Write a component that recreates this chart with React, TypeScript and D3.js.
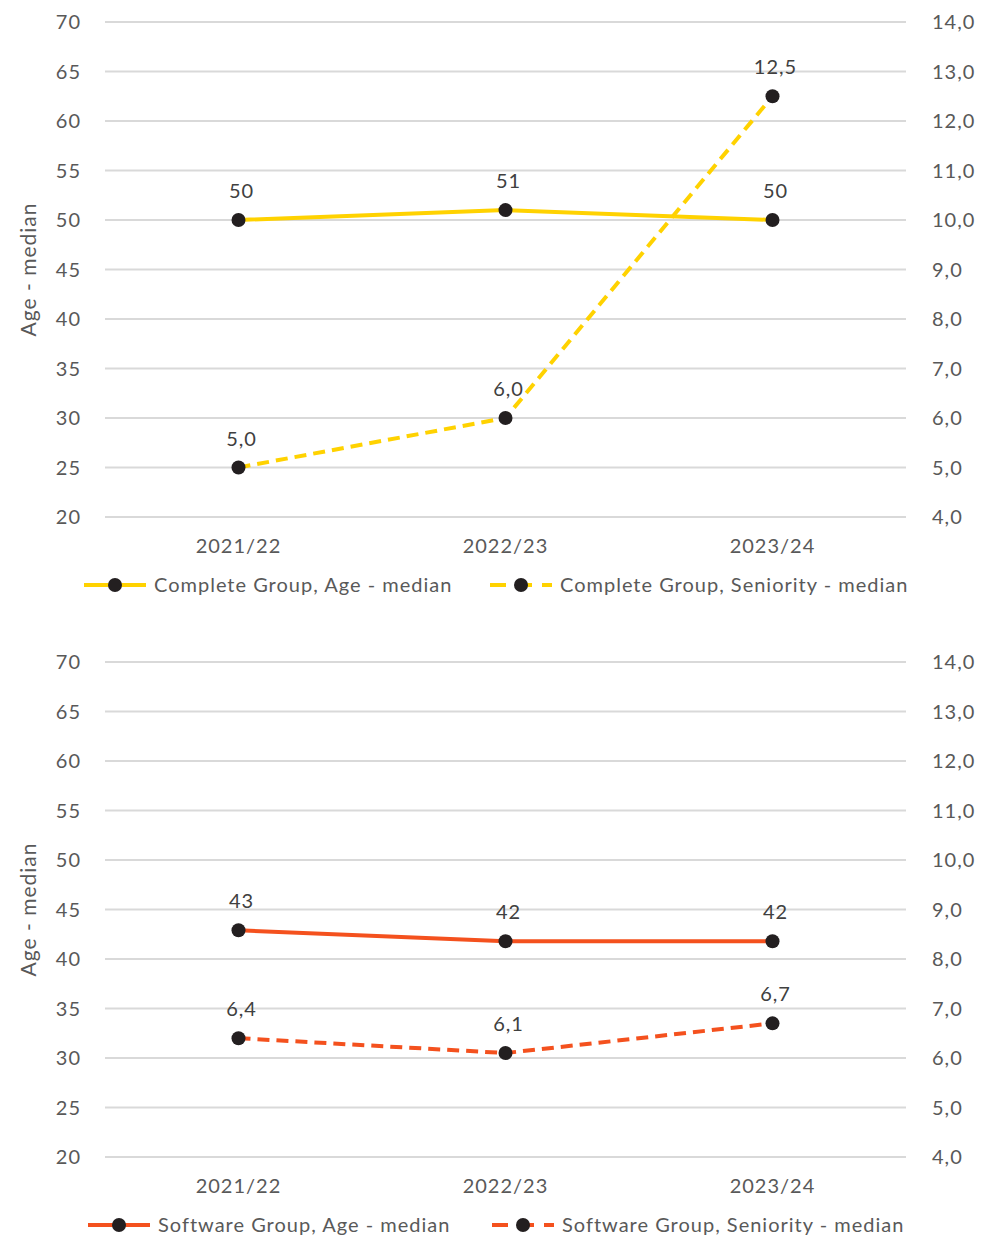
import React, { useEffect, useRef } from 'react';
import * as d3 from 'd3';

const years = ['2021/22', '2022/23', '2023/24'];
const leftTicks = [20, 25, 30, 35, 40, 45, 50, 55, 60, 65, 70];
const rightTicks = [4, 5, 6, 7, 8, 9, 10, 11, 12, 13, 14];

const completeAge = [50, 51, 50];
const completeSeniority = [5.0, 6.0, 12.5];
const softwareAge = [42.9, 41.8, 41.8];
const softwareSeniority = [6.4, 6.1, 6.7];

const YELLOW = '#FFD200';
const ORANGE = '#F4511E';
const FONT = 'Lato, "Open Sans", sans-serif';

const fmtComma = (v: number) => d3.format('.1f')(v).replace('.', ',');
const fmtInt = (v: number) => d3.format('.0f')(v);

interface PanelProps {
  top: number;
  color: string;
  age: number[];
  seniority: number[];
  ageLabel: string;
  seniorityLabel: string;
  legendX: [number, number];
}

const App: React.FC = () => {
  const svgRef = useRef<SVGSVGElement>(null);

  useEffect(() => {
    document.body.style.margin = '0';
    if (!svgRef.current) return;
    const svg = d3.select(svgRef.current);
    svg.selectAll('*').remove();

    const txt = (sel: any, size = 20, fill = '#595959') =>
      sel
        .style('font-family', FONT)
        .style('font-size', `${size}px`)
        .style('letter-spacing', '1px')
        .style('fill', fill);

    const drawPanel = (p: PanelProps) => {
      const g = svg.append('g').attr('transform', `translate(0, ${p.top})`);
      const plotH = 495;
      const x = d3.scalePoint<string>().domain(years).range([105, 906]).padding(0.5);
      const yL = d3.scaleLinear().domain([20, 70]).range([plotH, 0]);
      const yR = d3.scaleLinear().domain([4, 14]).range([plotH, 0]);

      // gridlines
      g.selectAll('line.grid')
        .data(leftTicks)
        .enter()
        .append('line')
        .attr('x1', 105)
        .attr('x2', 906)
        .attr('y1', d => yL(d))
        .attr('y2', d => yL(d))
        .style('stroke', '#d9d9d9')
        .style('stroke-width', 2);

      // left tick labels
      txt(
        g.selectAll('text.lt')
          .data(leftTicks)
          .enter()
          .append('text')
          .attr('x', 81)
          .attr('y', d => yL(d))
          .attr('dy', '0.35em')
          .attr('text-anchor', 'end')
      ).text(d => d);

      // right tick labels
      txt(
        g.selectAll('text.rt')
          .data(rightTicks)
          .enter()
          .append('text')
          .attr('x', 932)
          .attr('y', d => yR(d))
          .attr('dy', '0.35em')
          .attr('text-anchor', 'start')
      ).text(d => fmtComma(d));

      // axis title
      txt(
        g.append('text')
          .attr('transform', `translate(36, ${plotH / 2}) rotate(-90)`)
          .attr('text-anchor', 'middle'),
        21
      ).text('Age - median');

      // category labels
      txt(
        g.selectAll('text.cat')
          .data(years)
          .enter()
          .append('text')
          .attr('x', d => x(d)!)
          .attr('y', plotH + 36)
          .attr('text-anchor', 'middle')
      ).text(d => d);

      const series = [
        { vals: p.age, y: yL, dash: null as string | null, fmt: fmtInt },
        { vals: p.seniority, y: yR, dash: '12,7', fmt: fmtComma },
      ];

      series.forEach(s => {
        const line = d3
          .line<number>()
          .x((_, i) => x(years[i])!)
          .y(d => s.y(d));
        const path = g
          .append('path')
          .datum(s.vals)
          .attr('d', line)
          .style('fill', 'none')
          .style('stroke', p.color)
          .style('stroke-width', 4);
        if (s.dash) path.style('stroke-dasharray', s.dash);

        g.selectAll(null)
          .data(s.vals)
          .enter()
          .append('circle')
          .attr('cx', (_, i) => x(years[i])!)
          .attr('cy', d => s.y(d))
          .attr('r', 7)
          .style('fill', '#231f20');

        txt(
          g.selectAll(null)
            .data(s.vals)
            .enter()
            .append('text')
            .attr('x', (_, i) => x(years[i])! + 3)
            .attr('y', d => s.y(d) - 22)
            .attr('text-anchor', 'middle'),
          20,
          '#404040'
        ).text(d => s.fmt(d));
      });

      // legend
      const ly = plotH + 68;
      const items = [
        { label: p.ageLabel, dash: null as string | null, x0: p.legendX[0] },
        { label: p.seniorityLabel, dash: '16,10', x0: p.legendX[1] },
      ];
      items.forEach(it => {
        const l = g
          .append('line')
          .attr('x1', it.x0)
          .attr('x2', it.x0 + 62)
          .attr('y1', ly)
          .attr('y2', ly)
          .style('stroke', p.color)
          .style('stroke-width', 4);
        if (it.dash) l.style('stroke-dasharray', it.dash);
        g.append('circle')
          .attr('cx', it.x0 + 31)
          .attr('cy', ly)
          .attr('r', 7)
          .style('fill', '#231f20');
        txt(
          g.append('text')
            .attr('x', it.x0 + 70)
            .attr('y', ly)
            .attr('dy', '0.35em')
        ).text(it.label);
      });
    };

    drawPanel({
      top: 22,
      color: YELLOW,
      age: completeAge,
      seniority: completeSeniority,
      ageLabel: 'Complete Group, Age - median',
      seniorityLabel: 'Complete Group, Seniority - median',
      legendX: [84, 490],
    });
    drawPanel({
      top: 662,
      color: ORANGE,
      age: softwareAge,
      seniority: softwareSeniority,
      ageLabel: 'Software Group, Age - median',
      seniorityLabel: 'Software Group, Seniority - median',
      legendX: [88, 492],
    });
  }, []);

  return <svg ref={svgRef} width={982} height={1237} style={{ display: 'block', background: '#fff' }} />;
};

export default App;
